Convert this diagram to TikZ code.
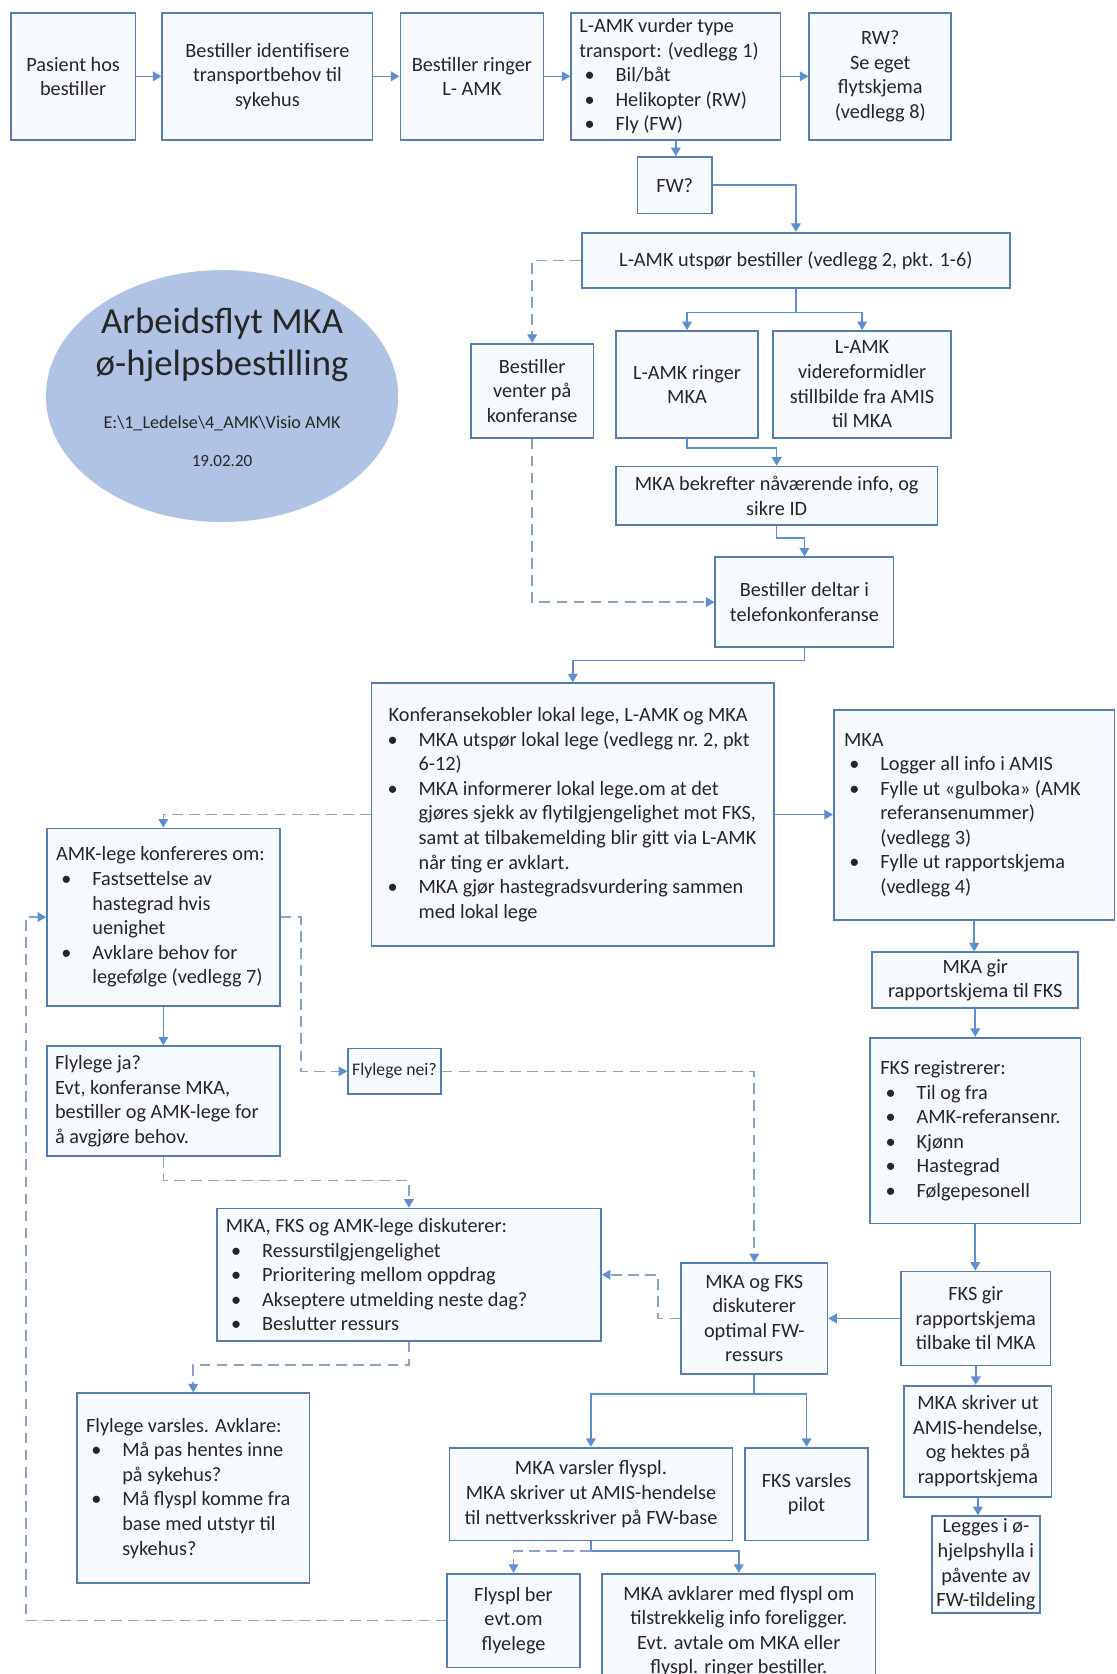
\documentclass[tikz,border=0pt]{standalone}
\usepackage{fontspec}
\setmainfont{Carlito}
\usetikzlibrary{shapes.geometric,arrows.meta,calc}
\setlength\parindent{0pt}
\definecolor{boxc}{RGB}{84,125,176}
\definecolor{boxf}{RGB}{247,250,254}
\definecolor{arr}{RGB}{91,143,208}
\definecolor{dsh}{RGB}{140,164,196}
\definecolor{txt}{RGB}{38,38,38}
\definecolor{ellc}{RGB}{176,195,228}
\newcommand\bi{\makebox[17pt][l]{\hspace{2.5pt}\textbullet}}
\newcommand\bc{\hspace*{17pt}}
% \bx{name}{x1}{y1}{x2}{y2}
\newcommand\bx[5]{\node[box, minimum width={(#4-#2)*0.5pt}, minimum height={(#5-#3)*0.5pt}] (#1) at ({(#2+#4)/2},{(#3+#5)/2}) {};}
\newcommand\ct[2]{\node[tx, align=center] (t#1) at (#1.center) {#2};}
\newcommand\lt[3]{\node[tx, align=left, anchor=west] (t#1) at ([xshift=#2]#1.west) {#3};}
\begin{document}
\begin{tikzpicture}[x=0.5pt,y=-0.5pt,
 box/.style={draw=boxc, line width=0.8pt, fill=boxf, inner sep=0pt},
 tx/.style={inner sep=0pt, text=txt, font=\fontsize{9.5}{11.5}\selectfont},
 con/.style={draw=arr, line width=0.75pt, -{Triangle[width=4.5pt,length=4pt,color=arr]}},
 dcon/.style={draw=dsh, line width=0.75pt, dash pattern=on 5pt off 3pt, -{Triangle[width=4.5pt,length=4pt,color=arr]}},
]
\clip (0,0) rectangle (1046,1568);
\fill[white] (0,0) rectangle (1046,1568);

% ellipse title
\node[ellipse, fill=ellc, minimum width=165pt, minimum height=118pt, inner sep=0pt] (ell) at (208,371) {};
\node[font=\fontsize{17.2}{19.5}\selectfont, align=center, text=txt] (ttl) at (208,323) {Arbeidsflyt MKA\\ø-hjelpsbestilling};
\node[font=\fontsize{8.5}{10}\selectfont, text=txt] (pth) at (208,397) {E:\textbackslash 1\_Ledelse\textbackslash 4\_AMK\textbackslash Visio AMK};
\node[font=\fontsize{8}{10}\selectfont, text=txt] (dato) at (208,432) {19.02.20};

% boxes
\bx{pas}{10}{12}{127}{131}
\bx{ident}{152}{12}{349}{131}
\bx{ring}{375}{12}{509}{131}
\bx{vurd}{535}{12}{731}{131}
\bx{rw}{758}{12}{891}{131}
\bx{fw}{597}{147}{667}{200}
\bx{utsp}{545}{218}{946}{270}
\bx{vent}{441}{322}{556}{410}
\bx{rmka}{577}{310}{710}{410}
\bx{vide}{724}{310}{891}{410}
\bx{bekr}{577}{437}{878}{492}
\bx{delt}{670}{522}{837}{606}
\bx{konf}{348}{640}{725}{886}
\bx{mka}{781}{665}{1044}{862}
\bx{amk}{44}{776}{262}{942}
\bx{mgir}{817}{892}{1010}{944}
\bx{fksr}{815}{972}{1012}{1146}
\bx{fja}{44}{980}{262}{1083}
\bx{fnei}{326}{982}{413}{1025}
\bx{disk}{203}{1132}{563}{1256}
\bx{mfks}{638}{1183}{775}{1287}
\bx{fgir}{844}{1191}{984}{1279}
\bx{mskr}{847}{1298}{985}{1402}
\bx{fvar}{72}{1305}{290}{1483}
\bx{mvar}{421}{1356}{686}{1443}
\bx{fpil}{698}{1356}{813}{1443}
\bx{legg}{873}{1420}{974}{1511}
\bx{fber}{419}{1474}{543}{1562}
\bx{avkl}{564}{1474}{820}{1583}

% texts
\ct{pas}{Pasient hos\\bestiller}
\ct{ident}{Bestiller identifisere\\transportbehov til\\sykehus}
\ct{ring}{Bestiller ringer\\L- AMK}
\lt{vurd}{4pt}{L-AMK vurder type\\transport: (vedlegg 1)\\\bi Bil/båt\\\bi Helikopter (RW)\\\bi Fly (FW)}
\ct{rw}{RW?\\Se eget\\flytskjema\\(vedlegg 8)}
\ct{fw}{FW?}
\ct{utsp}{L-AMK utspør bestiller (vedlegg 2, pkt. 1-6)}
\ct{vent}{Bestiller\\venter på\\konferanse}
\ct{rmka}{L-AMK ringer\\MKA}
\ct{vide}{L-AMK\\videreformidler\\stillbilde fra AMIS\\til MKA}
\ct{bekr}{MKA bekrefter nåværende info, og\\sikre ID}
\ct{delt}{Bestiller deltar i\\telefonkonferanse}
\lt{konf}{5.25pt}{\hspace*{3pt}Konferansekobler lokal lege, L-AMK og MKA\\\bi MKA utspør lokal lege (vedlegg nr.~2, pkt\\\bc 6-12)\\\bi MKA informerer lokal lege.om at det\\\bc gjøres sjekk av flytilgjengelighet mot FKS,\\\bc samt at tilbakemelding blir gitt via L-AMK\\\bc når ting er avklart.\\\bi MKA gjør hastegradsvurdering sammen\\\bc med lokal lege}
\lt{mka}{5pt}{MKA\\\bi Logger all info i AMIS\\\bi Fylle ut «gulboka» (AMK\\\bc referansenummer)\\\bc (vedlegg 3)\\\bi Fylle ut rapportskjema\\\bc (vedlegg 4)}
\lt{amk}{4.5pt}{AMK-lege konfereres om:\\\bi Fastsettelse av\\\bc hastegrad hvis\\\bc uenighet\\\bi Avklare behov for\\\bc legefølge (vedlegg 7)}
\ct{mgir}{MKA gir\\rapportskjema til FKS}
\lt{fksr}{5pt}{FKS registrerer:\\\bi Til og fra\\\bi AMK-referansenr.\\\bi Kjønn\\\bi Hastegrad\\\bi Følgepesonell}
\lt{fja}{4pt}{Flylege ja?\\Evt, konferanse MKA,\\bestiller og AMK-lege for\\å avgjøre behov.}
\node[tx, font=\fontsize{8.3}{10}\selectfont] (tfnei) at (fnei.center) {Flylege nei?};
\lt{disk}{4.5pt}{MKA, FKS og AMK-lege diskuterer:\\\bi Ressurstilgjengelighet\\\bi Prioritering mellom oppdrag\\\bi Akseptere utmelding neste dag?\\\bi Beslutter ressurs}
\ct{mfks}{MKA og FKS\\diskuterer\\optimal FW-\\ressurs}
\ct{fgir}{FKS gir\\rapportskjema\\tilbake til MKA}
\ct{mskr}{MKA skriver ut\\AMIS-hendelse,\\og hektes på\\rapportskjema}
\lt{fvar}{4.5pt}{Flylege varsles. Avklare:\\\bi Må pas hentes inne\\\bc på sykehus?\\\bi Må flyspl komme fra\\\bc base med utstyr til\\\bc sykehus?}
\ct{mvar}{MKA varsler flyspl.\\MKA skriver ut AMIS-hendelse\\til nettverksskriver på FW-base}
\ct{fpil}{FKS varsles\\pilot}
\ct{legg}{Legges i ø-\\hjelpshylla i\\påvente av\\FW-tildeling}
\ct{fber}{Flyspl ber\\evt.om\\flyelege}
\ct{avkl}{MKA avklarer med flyspl om\\tilstrekkelig info foreligger.\\Evt. avtale om MKA eller\\flyspl. ringer bestiller.}

% solid connectors
\draw[con] (pas.east) -- (ident.west);
\draw[con] (ident.east) -- (ring.west);
\draw[con] (ring.east) -- (vurd.west);
\draw[con] (vurd.east) -- (rw.west);
\draw[con] (vurd.south) -- (vurd.south |- fw.north);
\draw[con] (fw.east) -| (utsp.north);
\draw[con] (utsp.south) -- ++(0,22) -| (rmka.north);
\draw[con] (utsp.south) ++(0,22) -| (vide.north);
\draw[con] (rmka.south) -- ++(0,9) -| (bekr.north);
\draw[con] (bekr.south) -- ++(0,11) -| (delt.north);
\draw[con] (delt.south) -- ++(0,12) -| (konf.north);
\draw[con] (konf.east) -- (konf.east -| mka.west);
\draw[con] (mka.south) -- (mka.south |- mgir.north);
\draw[con] (mgir.south) -- (mgir.south |- fksr.north);
\draw[con] (fksr.south) -- (fksr.south |- fgir.north);
\draw[con] (fgir.west) -- (fgir.west -| mfks.east);
\draw[con] (fgir.south) -- (fgir.south |- mskr.north);
\draw[con] (mskr.south) -- (mskr.south |- legg.north);
\draw[con] (mfks.south) -- ++(0,18) -| (mvar.north);
\draw[con] (mfks.south) ++(0,18) -| (fpil.north);
\draw[con] (mvar.south) -- ++(0,9) -| (avkl.north);
\draw[con] (amk.south) -- (amk.south |- fja.north);

% dashed connectors
\draw[dcon] (mvar.south) ++(0,9) -| (fber.north);
\draw[dcon] (utsp.west) -| (vent.north);
\draw[dcon] (vent.south) |- (delt.west);
\draw[dcon] (konf.west) -| (amk.north);
\draw[dcon] (amk.east) -- ++(19,0) |- (fnei.west);
\draw[dcon] (fnei.east) -| (mfks.north);
\draw[dcon] (fja.south) -- ++(0,22) -| (disk.north);
\draw[dcon] (mfks.west) -- ++(-21,0) |- (disk.east);
\draw[dcon] (disk.south) -- ++(0,22) -| (fvar.north);
\draw[dcon] (fber.west) -- ++(-394,0) |- (amk.west);
\end{tikzpicture}
\end{document}
